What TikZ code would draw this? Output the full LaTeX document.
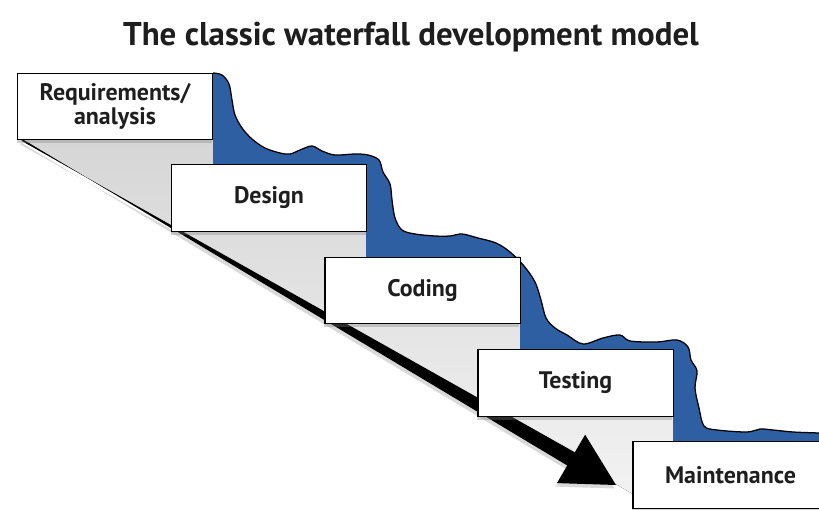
\documentclass[tikz,border=0pt]{standalone}
\usepackage{fontspec}
\setmainfont{PT Sans}
\usetikzlibrary{calc,shadows}
\definecolor{fallsblue}{HTML}{2F5FA3}
\definecolor{stageink}{HTML}{1E1E1E}
\definecolor{stepshade}{HTML}{D6D6D6}
\definecolor{stepfade}{HTML}{F2F2F2}
% the wavy outer edge of the water, in pixel units
\newcommand{\fallsedge}{plot[smooth, tension=0.55] coordinates {
  (213,73) (222,75) (229,84) (232,100) (235,115) (242,128) (252,139)
  (265,148) (280,153) (290,154) (300,150) (312,146) (322,151) (335,155)
  (355,154) (368,155) (379,160) (383,172) (390,184) (392,200) (395,218)
  (402,230) (415,234) (435,236) (450,236) (462,234) (478,238) (496,243)
  (510,252) (524,266) (535,282) (541,300) (546,318) (555,328) (567,335)
  (583,344) (603,338) (620,335) (630,341) (657,342) (677,340) (688,347)
  (691,360) (697,371) (695,388) (699,408) (704,426) (717,430) (747,432)
  (760,429) (773,430) (793,432) (818,433) (830,434)}}

\begin{document}
\begin{tikzpicture}[
  x=0.025cm,
  y=-0.025cm,
  every node/.style={stageink},
  stagebox/.style={draw=black, fill=white, line width=0.9pt,
    minimum width=4.88cm, minimum height=1.66cm, inner sep=0pt,
    align=center, font=\fontsize{17}{17.5}\selectfont\bfseries,
    drop shadow={shadow xshift=-0.6pt, shadow yshift=-2.5pt, opacity=0.35}},
  falls/.style={fill=fallsblue},
  fallsline/.style={draw=black, line width=0.9pt, line join=round},
  floor/.style={top color=stepshade, bottom color=stepfade},
  flowarrow/.style={fill=black,
    drop shadow={shadow xshift=-1pt, shadow yshift=-2.5pt, opacity=0.3}}
]
  \useasboundingbox (0,0) rectangle (819,510);
  \clip (0,0) rectangle (819,510);

  % ---- title ------------------------------------------------------------
  \node[anchor=base, font=\fontsize{23.4}{28}\selectfont\bfseries] (title)
    at (411,46) {The classic waterfall development model};

  % ---- grey floor under the steps ---------------------------------------
  \fill[floor] (22,140) -- (213,140) -- (213,165) -- (366,165)
    -- (366,257) -- (520,257) -- (520,350) -- (673,350) -- (673,441)
    -- (633,441) -- (633,494) -- cycle;

  % ---- the water running down the steps ---------------------------------
  \fill[falls] \fallsedge -- (830,441) -- (673,441) -- (673,350)
    -- (520,350) -- (520,257) -- (366,257) -- (366,165) -- (213,165) -- cycle;
  \draw[fallsline] \fallsedge;

  % ---- the flow arrow, thin at the top and wide at the head -------------
  \coordinate (flowstart) at (22,140);
  \coordinate (flowtip) at (616,485);
  \coordinate (flowbase) at ($(flowtip)!1.3cm!(flowstart)$);
  \fill[flowarrow] ($(flowstart)!0.025cm!90:(flowtip)$)
    -- ($(flowbase)!0.19cm!-90:(flowtip)$)
    -- ($(flowbase)!0.7cm!-90:(flowtip)$)
    -- (flowtip)
    -- ($(flowbase)!0.7cm!90:(flowtip)$)
    -- ($(flowbase)!0.19cm!90:(flowtip)$)
    -- ($(flowstart)!0.025cm!-90:(flowtip)$) -- cycle;

  % ---- the five stages --------------------------------------------------
  \node[stagebox] (req) at (115,106.5) {Requirements/\\analysis};
  \node[stagebox] (design) at (269,198) {Design};
  \node[stagebox] (coding) at (422.5,290.5) {Coding};
  \node[stagebox] (testing) at (575.5,383) {Testing};
  \node[stagebox] (maint) at (730.5,475) {Maintenance};
\end{tikzpicture}
\end{document}
